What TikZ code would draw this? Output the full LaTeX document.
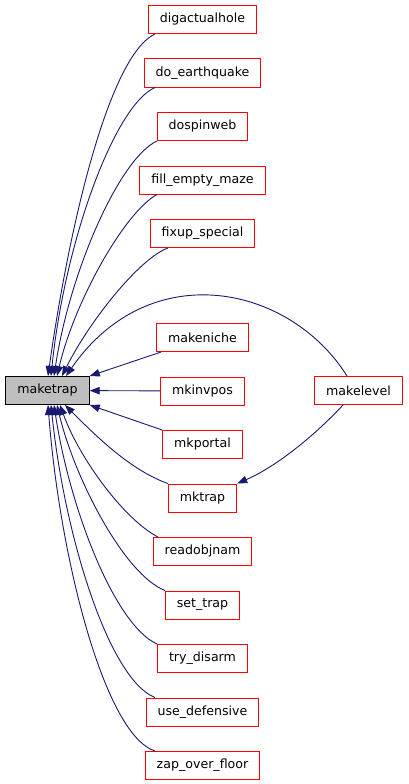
\documentclass[tikz,border=0pt]{standalone}
\usepackage{fontspec}
\usepackage{xcolor}
\usepackage{tikz}
\usetikzlibrary{arrows.meta,positioning}
\newfontfamily\dxfont{DejaVu Sans}
\definecolor{edgeblue}{HTML}{191970}
\definecolor{boxgray}{HTML}{BFBFBF}

\begin{document}
\begin{tikzpicture}[
  x=1pt, y=1pt,
  node distance=24.5pt,
  every node/.style={font=\dxfont\fontsize{12.6}{15}\selectfont},
  fn/.style={draw=red, fill=white, line width=1pt, inner xsep=11.5pt, inner ysep=0pt, minimum height=28pt},
  root/.style={fn, draw=black, fill=boxgray},
  call/.style={-{Triangle[length=10pt,width=7.5pt]}, draw=edgeblue, line width=0.9pt}
]
  \useasboundingbox (0,0) rectangle (408,-784);

  \node[root] (maketrap) at (47.5,-390.5) {maketrap};
  \node[fn] (makelevel) at (358.5,-390.5) {makelevel};

  \node[fn] (digactualhole) at (202.5,-19.5) {digactualhole};
  \node[fn, below=of digactualhole] (doearthquake) {do\_earthquake};
  \node[fn, below=of doearthquake] (dospinweb) {dospinweb};
  \node[fn, below=of dospinweb] (fillemptymaze) {fill\_empty\_maze};
  \node[fn, below=of fillemptymaze] (fixupspecial) {fixup\_special};
  \node[fn, below=75pt of fixupspecial] (makeniche) {makeniche};
  \node[fn, below=of makeniche] (mkinvpos) {mkinvpos};
  \node[fn, below=of mkinvpos] (mkportal) {mkportal};
  \node[fn, below=of mkportal] (mktrap) {mktrap};
  \node[fn, below=of mktrap] (readobjnam) {readobjnam};
  \node[fn, below=of readobjnam] (settrap) {set\_trap};
  \node[fn, below=of settrap] (trydisarm) {try\_disarm};
  \node[fn, below=of trydisarm] (usedefensive) {use\_defensive};
  \node[fn, below=of usedefensive] (zapoverfloor) {zap\_over\_floor};

  % callers above
  \draw[call] ([xshift=-47.5pt]digactualhole.south) .. controls (110,-55) and (70,-220) .. ([xshift=0.5pt]maketrap.north);
  \draw[call] ([xshift=-47.5pt]doearthquake.south) .. controls (115,-105) and (65,-240) .. ([xshift=3.5pt]maketrap.north);
  \draw[call] ([xshift=-45.5pt]dospinweb.south) .. controls (120,-158) and (70,-270) .. ([xshift=6.5pt]maketrap.north);
  \draw[call] ([xshift=-45.5pt]fillemptymaze.south) .. controls (125,-212) and (75,-300) .. ([xshift=9.5pt]maketrap.north);
  \draw[call] ([xshift=-34.5pt]fixupspecial.south) .. controls (140,-258) and (90,-320) .. ([xshift=14.5pt]maketrap.north);
  \draw[call] ([xshift=-11.5pt]makelevel.north) .. controls (290,-285) and (150,-255) .. ([xshift=18.5pt]maketrap.north);

  % callers beside
  \draw[call] ([xshift=5pt]makeniche.south west) -- (maketrap.north east);
  \draw[call] (mkinvpos) -- (maketrap);
  \draw[call] (mkportal.north west) -- (maketrap.south east);
  \draw[call] (mktrap.north west) .. controls (130,-470) and (95,-435) .. ([xshift=17.5pt]maketrap.south);
  \draw[call] ([xshift=-15.5pt]makelevel.south) .. controls (320,-430) and (280,-465) .. (mktrap.north east);

  % callers below
  \draw[call] ([xshift=-44.5pt]readobjnam.north) .. controls (125,-520) and (80,-460) .. ([xshift=12.5pt]maketrap.south);
  \draw[call] ([xshift=-37.5pt]settrap.north) .. controls (125,-575) and (75,-480) .. ([xshift=9.5pt]maketrap.south);
  \draw[call] ([xshift=-45.5pt]trydisarm.north) .. controls (115,-625) and (70,-510) .. ([xshift=6.5pt]maketrap.south);
  \draw[call] ([xshift=-47.5pt]usedefensive.north) .. controls (110,-680) and (65,-540) .. ([xshift=3.5pt]maketrap.south);
  \draw[call] ([xshift=-47.5pt]zapoverfloor.north) .. controls (105,-735) and (60,-560) .. ([xshift=0.5pt]maketrap.south);
\end{tikzpicture}
\end{document}
